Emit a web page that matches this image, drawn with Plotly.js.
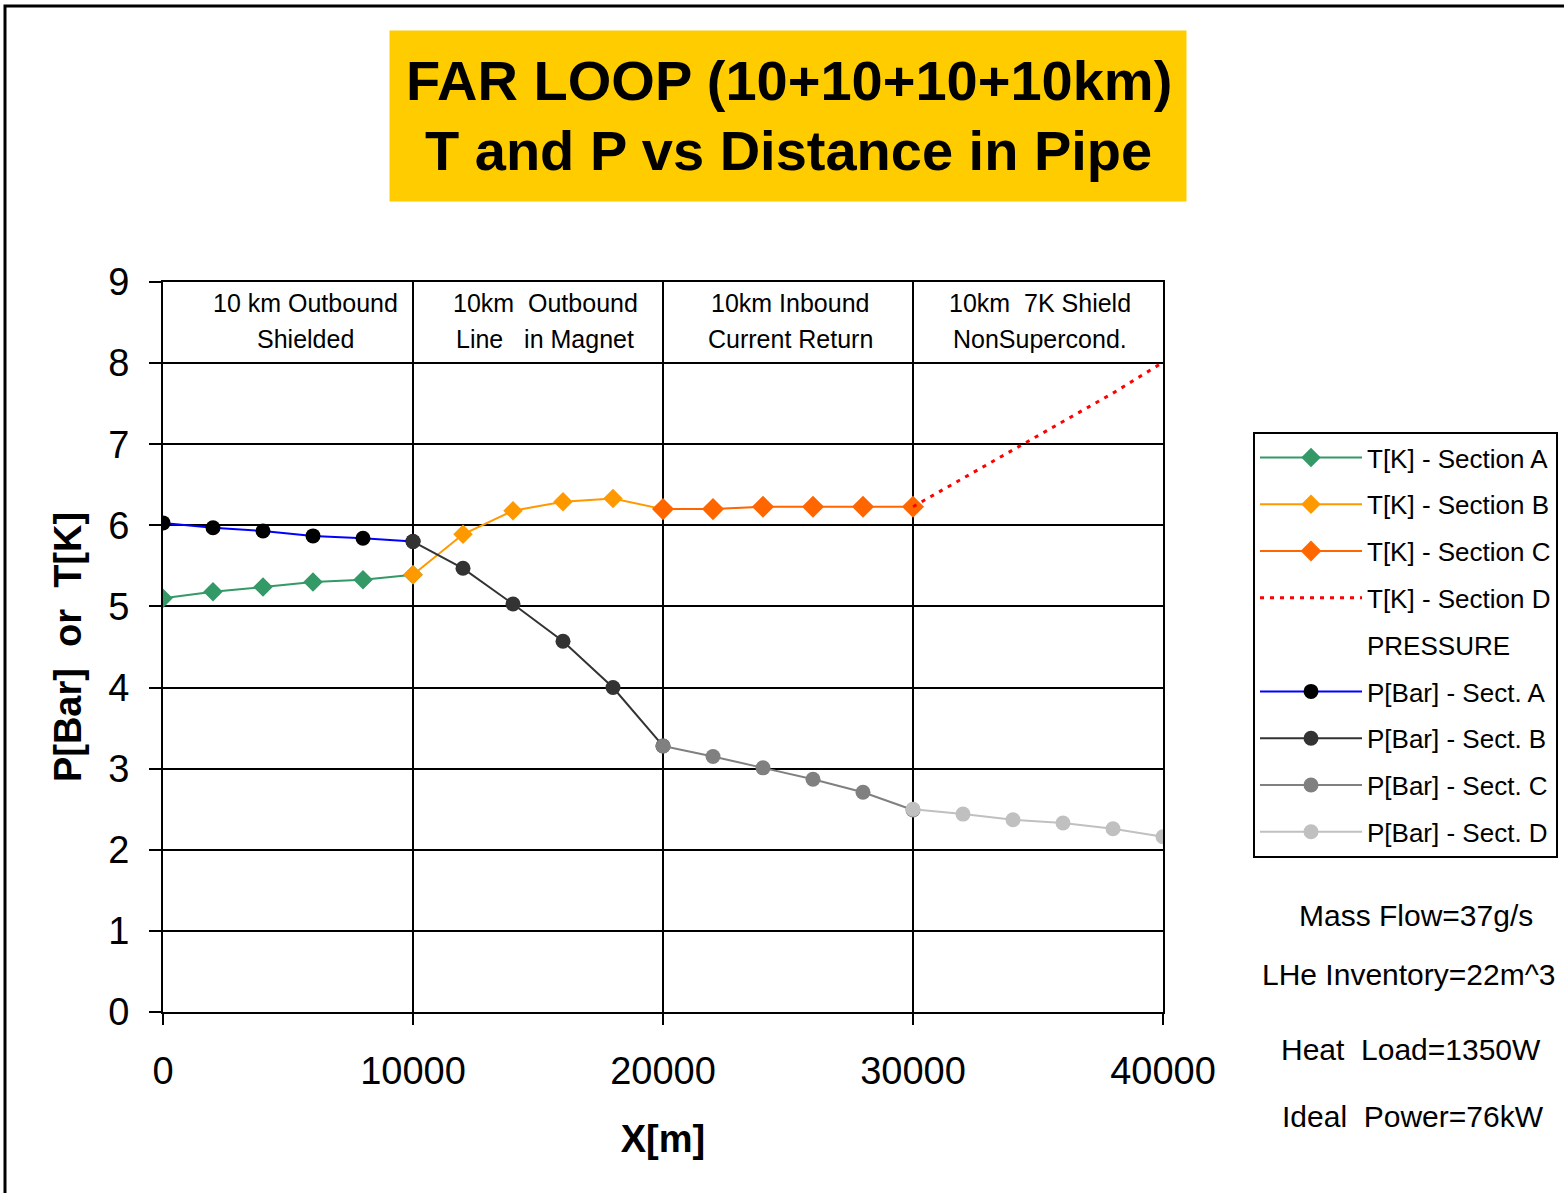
<!DOCTYPE html>
<html>
<head>
<meta charset="utf-8">
<script src="https://cdn.plot.ly/plotly-3.0.1.min.js"></script>
<style>
  html, body { margin: 0; padding: 0; background: #fff; }
  #chart { width: 1564px; height: 1193px; }
</style>
</head>
<body>
<div id="chart"></div>
<script>
// ---- Data ----
const xA = [0, 2000, 4000, 6000, 8000, 10000];
const xB = [10000, 12000, 14000, 16000, 18000, 20000];
const xC = [20000, 22000, 24000, 26000, 28000, 30000];
const xD = [30000, 32000, 34000, 36000, 38000, 40000];

const tempA = [5.10, 5.18, 5.24, 5.30, 5.33, 5.39];
const tempB = [5.39, 5.89, 6.18, 6.29, 6.33, 6.20];
const tempC = [6.20, 6.20, 6.23, 6.23, 6.23, 6.23];
const tempD = [6.23, 6.58, 6.93, 7.28, 7.63, 8.01];

const presA = [6.03, 5.97, 5.93, 5.87, 5.84, 5.80];
const presB = [5.80, 5.47, 5.03, 4.57, 4.00, 3.28];
const presC = [3.28, 3.15, 3.01, 2.87, 2.71, 2.49];
const presD = [2.50, 2.44, 2.37, 2.33, 2.26, 2.16];

const titleLines = ["FAR LOOP (10+10+10+10km)", "T and P vs Distance in Pipe"];

const sectionX = [5680, 15280, 25080, 35080];
const sectionLine1 = ["10 km Outbound", "10km&nbsp;&nbsp;Outbound", "10km Inbound", "10km&nbsp;&nbsp;7K Shield"];
const sectionLine2 = ["Shielded", "Line&nbsp;&nbsp;&nbsp;in Magnet", "Current Return", "NonSupercond."];

const infoLines = ["Mass Flow=37g/s", "LHe Inventory=22m^3", "Heat&nbsp;&nbsp;Load=1350W", "Ideal&nbsp;&nbsp;Power=76kW"];

const FONT = "Liberation Sans, Arial, sans-serif";

function tTrace(x, y, name, color, size, grp) {
  return {
    x: x, y: y, name: name, type: "scatter", mode: "lines+markers",
    line: { color: color, width: 2 },
    marker: { symbol: "diamond", size: size, color: color },
    legendgroup: grp
  };
}
function pTrace(x, y, name, lineColor, markerColor, grp) {
  return {
    x: x, y: y, name: name, type: "scatter", mode: "lines+markers",
    line: { color: lineColor, width: 2 },
    marker: { symbol: "circle", size: 15, color: markerColor },
    legendgroup: grp
  };
}

const traces = [
  tTrace(xA, tempA, "T[K] - Section A", "#339966", 15, "g1"),
  tTrace(xB, tempB, "T[K] - Section B", "#FF9900", 15, "g2"),
  tTrace(xC, tempC, "T[K] - Section C", "#FF6600", 17, "g3"),
  {
    x: xD, y: tempD, name: "T[K] - Section D", type: "scatter", mode: "lines",
    line: { color: "#FF0000", width: 3, dash: "4px,6px" }, legendgroup: "g4"
  },
  {
    x: [null], y: [null], name: "PRESSURE", type: "scatter", mode: "lines",
    line: { color: "rgba(0,0,0,0)", width: 0 }, legendgroup: "g5", hoverinfo: "skip"
  },
  pTrace(xA, presA, "P[Bar] - Sect. A", "#0000FF", "#000000", "g6"),
  pTrace(xB, presB, "P[Bar] - Sect. B", "#333333", "#333333", "g7"),
  pTrace(xC, presC, "P[Bar] - Sect. C", "#808080", "#808080", "g8"),
  pTrace(xD, presD, "P[Bar] - Sect. D", "#C0C0C0", "#C0C0C0", "g9")
];

const annotations = [];
// Title box background
annotations.push({
  xref: "paper", yref: "paper", x: 0.625, y: 1.2274,
  xanchor: "center", yanchor: "middle",
  text: "&nbsp;", showarrow: false, bgcolor: "#FFCC00", width: 794, height: 168,
  font: { family: FONT, size: 20, color: "#000000" }
});
// Title text lines
const titleY = [1.2767, 1.1808];
for (let i = 0; i < titleLines.length; i++) {
  annotations.push({
    xref: "paper", yref: "paper", x: 0.6255, y: titleY[i],
    xanchor: "center", yanchor: "middle",
    text: "<b>" + titleLines[i] + "</b>", showarrow: false,
    font: { family: FONT, size: 56, color: "#000000" }
  });
}
// Section labels
for (let i = 0; i < sectionX.length; i++) {
  annotations.push({
    xref: "x", yref: "y", x: sectionX[i], y: 8.74, text: sectionLine1[i],
    showarrow: false, xanchor: "center", yanchor: "middle",
    font: { family: FONT, size: 25, color: "#000000" }
  });
  annotations.push({
    xref: "x", yref: "y", x: sectionX[i], y: 8.30, text: sectionLine2[i],
    showarrow: false, xanchor: "center", yanchor: "middle",
    font: { family: FONT, size: 25, color: "#000000" }
  });
}
// Info text on the right
const infoY = [0.1325, 0.0507, -0.0507, -0.1438];
const infoX = [1.253, 1.245, 1.248, 1.250];
for (let i = 0; i < infoLines.length; i++) {
  annotations.push({
    xref: "paper", yref: "paper", x: infoX[i], y: infoY[i], text: infoLines[i],
    showarrow: false, xanchor: "center", yanchor: "middle",
    font: { family: FONT, size: 30, color: "#000000" }
  });
}

const layout = {
  width: 1564, height: 1193,
  margin: { l: 163, r: 401, t: 282, b: 181, pad: 0, autoexpand: false },
  paper_bgcolor: "#FFFFFF", plot_bgcolor: "#FFFFFF",
  font: { family: FONT, color: "#000000" },
  showlegend: true,
  legend: {
    x: 1.09, y: 0.7945, xanchor: "left", yanchor: "top",
    bgcolor: "#FFFFFF", bordercolor: "#000000", borderwidth: 2,
    font: { family: FONT, size: 26, color: "#000000" },
    tracegroupgap: 10, itemwidth: 102
  },
  xaxis: {
    range: [0, 40000], tickmode: "linear", tick0: 0, dtick: 10000,
    tickformat: "d", automargin: false,
    showgrid: true, gridcolor: "#000000", gridwidth: 2,
    showline: true, linecolor: "#000000", linewidth: 2, mirror: true,
    zeroline: false,
    ticks: "outside", ticklen: 11, tickwidth: 2, tickcolor: "#000000",
    ticklabelstandoff: 13,
    tickfont: { family: FONT, size: 38, color: "#000000" },
    title: { text: "<b>X[m]</b>", font: { family: FONT, size: 38, color: "#000000" }, standoff: 35 }
  },
  yaxis: {
    range: [0, 9], tickmode: "linear", tick0: 0, dtick: 1, automargin: false,
    showgrid: true, gridcolor: "#000000", gridwidth: 2,
    showline: true, linecolor: "#000000", linewidth: 2, mirror: true,
    zeroline: false,
    ticks: "outside", ticklen: 12, tickwidth: 2, tickcolor: "#000000",
    ticklabelstandoff: 12,
    tickfont: { family: FONT, size: 38, color: "#000000" },
    title: { text: "<b>P[Bar]&nbsp;&nbsp;or&nbsp;&nbsp;T[K]</b>", font: { family: FONT, size: 38, color: "#000000" }, standoff: 15 }
  },
  shapes: [
    {
      type: "rect", xref: "paper", yref: "paper",
      x0: -0.158, x1: 1.42, y0: -0.27, y1: 1.378,
      line: { color: "#000000", width: 3 }, fillcolor: "rgba(0,0,0,0)", layer: "below"
    }
  ],
  annotations: annotations
};

Plotly.newPlot("chart", traces, layout, { displayModeBar: false, staticPlot: true });
</script>
</body>
</html>
